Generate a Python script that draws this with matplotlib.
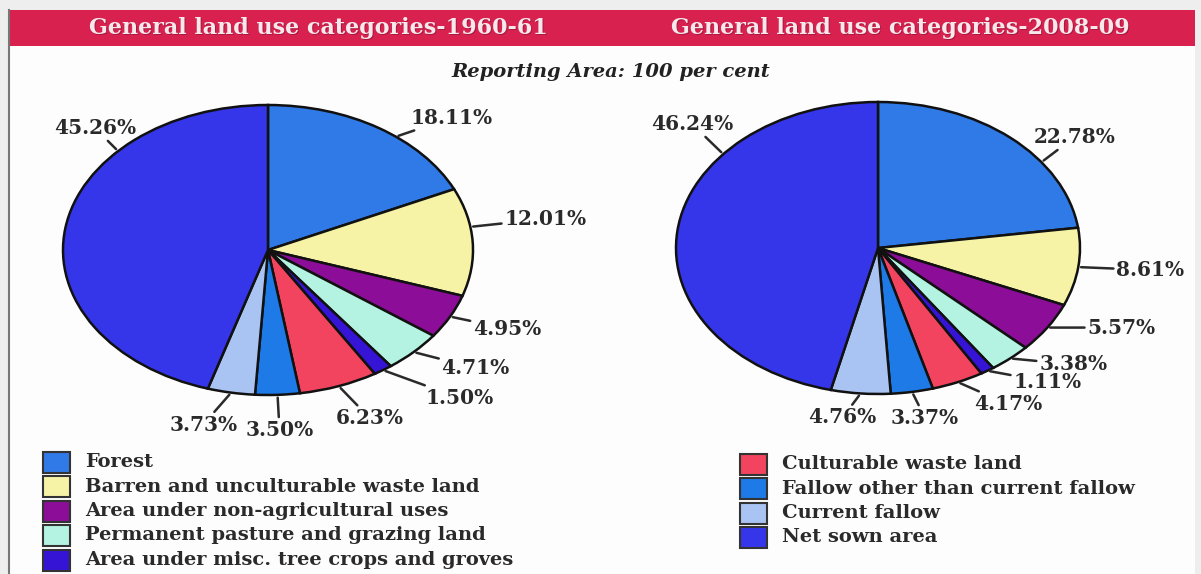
import matplotlib.pyplot as plt
from matplotlib.patches import Rectangle
import numpy as np

W, H = 1201, 574

categories = ['Forest', 'Barren and unculturable waste land',
              'Area under non-agricultural uses', 'Permanent pasture and grazing land',
              'Area under misc. tree crops and groves', 'Culturable waste land',
              'Fallow other than current fallow', 'Current fallow', 'Net sown area']
share_1960 = [18.11, 12.01, 4.95, 4.71, 1.50, 6.23, 3.50, 3.73, 45.26]
share_2008 = [22.78, 8.61, 5.57, 3.38, 1.11, 4.17, 3.37, 4.76, 46.24]
titles = ['General land use categories-1960-61', 'General land use categories-2008-09']

colors = ['#2f7ae6', '#f7f3a6', '#8c0d98', '#b4f2e2', '#3614d6',
          '#f2445e', '#1d7ae6', '#a9c3f2', '#3535ea']

serif = ['DejaVu Serif']

fig = plt.figure(figsize=(W / 100, H / 100), dpi=100)
fig.patch.set_facecolor('#eeeeee')

# background layer in pixel units
bg = fig.add_axes([0, 0, 1, 1])
bg.set_xlim(0, W)
bg.set_ylim(H, 0)
bg.axis('off')
bg.add_patch(Rectangle((9, 10), 1186, 564, facecolor='#fdfdfd', edgecolor='none'))
bg.plot([9, 9], [10, 574], color='#777777', lw=1.5)
bg.add_patch(Rectangle((9, 10), 1186, 36, facecolor='#d8214f', edgecolor='none'))
for x, t in zip([318, 900], titles):
    bg.text(x + 1, 29, t, color='#7a1030', fontsize=16, fontweight='bold',
            family=serif, ha='center', va='center', alpha=0.5)
    bg.text(x, 28, t, color='#f7e8ec', fontsize=16, fontweight='bold',
            family=serif, ha='center', va='center')
bg.text(611, 72, 'Reporting Area: 100 per cent', fontsize=14, style='italic',
        fontweight='bold', family=serif, ha='center', va='center', color='#222222')

# pie geometry (pixels): centre x, centre y, x radius, y radius
pies = [(268, 250, 205, 145), (878, 248, 202, 146)]
# leader anchor nudge (deg) and text offset (pixels) for each label
nudges = [[-6, 6, 0, 0, 0, 0, 0, 0, None], [-13, 0, 0, 0, 0, 0, 0, 0, None]]
net_anchor = [137, 140]
offsets = [
    [(56, 19), (75, 8), (57, -12), (62, -16), (77, -28), (31, -32), (2, -35), (-28, -32), (-23, 23)],
    [(33, 25), (72, -3), (74, 0), (63, -6), (60, -11), (50, -22), (13, -26), (-18, -24), (-31, 30)],
]

m = 1.05
for k, vals in enumerate([share_1960, share_2008]):
    cx, cy, rx, ry = pies[k]
    ax = fig.add_axes([(cx - rx * m) / W, (H - cy - ry * m) / H,
                       2 * rx * m / W, 2 * ry * m / H])
    ax.pie(vals, colors=colors, startangle=90, counterclock=False,
           wedgeprops=dict(edgecolor='#111111', linewidth=1.8))
    ax.set_aspect('auto')
    ax.set_xlim(-m, m)
    ax.set_ylim(-m, m)
    ax.axis('off')

    cum = np.cumsum(vals) - np.array(vals) / 2
    mids = 90 - cum / 100 * 360
    for i, v in enumerate(vals):
        if nudges[k][i] is None:
            th = net_anchor[k]
        else:
            th = mids[i] + nudges[k][i]
        th = np.radians(th)
        ax.annotate(f'{v:.2f}%', xy=(np.cos(th), np.sin(th)), xytext=offsets[k][i],
                    textcoords='offset pixels', ha='center', va='center',
                    fontsize=14.5, fontweight='bold', family=serif, color='#2a2a2a',
                    arrowprops=dict(arrowstyle='-', color='#2a2a2a', lw=1.8,
                                    shrinkA=0, shrinkB=-2))

# legend, two columns
cols = [(categories[:5], colors[:5], 43, 462), (categories[5:], colors[5:], 740, 464)]
for labs, cs, x0, y0 in cols:
    for j, (lab, c) in enumerate(zip(labs, cs)):
        y = y0 + j * 24.5
        bg.add_patch(Rectangle((x0, y - 10.5), 27, 21, facecolor=c, edgecolor='#333333', lw=1.5))
        bg.text(x0 + 42, y, lab, fontsize=14, fontweight='bold', family=serif,
                va='center', ha='left', color='#2a2a2a')

fig.savefig('out.png', dpi=100, facecolor=fig.get_facecolor())
